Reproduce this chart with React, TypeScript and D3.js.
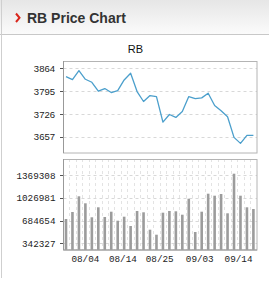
import React from "react";
import * as d3 from "d3";

const prices = [3839, 3830, 3857, 3831, 3822, 3795, 3803, 3791, 3797, 3829, 3849, 3794, 3764, 3782, 3779, 3702, 3725, 3716, 3734, 3779, 3773, 3775, 3789, 3752, 3736, 3718, 3656, 3638, 3662, 3662];
const volumes = [708795, 814362, 1051134, 945567, 734433, 885243, 738957, 818887, 683158, 743482, 603228, 829443, 809838, 547429, 472024, 803806, 829443, 824919, 773644, 1014940, 512742, 818887, 1090345, 1060183, 1085820, 794757, 1391965, 1060183, 885243, 859605];
const priceTicks = [3657, 3726, 3795, 3864];
const volumeTicks = [342327, 684654, 1026981, 1369308];
const dateLabels = ["08/04", "08/14", "08/25", "09/03", "09/14"];
const dateLabelPos = [3, 8.8, 14.5, 20.7, 26.7];

const W = 269;
const H = 281;
const L = 63.5;
const R = 257;
const P_TOP = 61;
const P_BOT = 153;
const V_TOP = 159;
const V_BOT = 250;

export default function App() {
  const x = d3.scaleLinear().domain([0, prices.length - 1]).range([66, 253.4]);
  const yP = d3.scaleLinear().domain([3609, 3886]).range([P_BOT, P_TOP]);
  const yV = d3.scaleLinear().domain([241284, 1613655]).range([V_BOT, V_TOP]);
  const line = d3
    .line<number>()
    .x((_, i) => x(i))
    .y((d) => yP(d));
  const axisFont = "'Liberation Sans', Arial, sans-serif";
  const monoFont = "'Liberation Mono', 'DejaVu Sans Mono', monospace";
  const grid = "#d8d8d8";
  return (
    <svg
      width={W}
      height={H}
      style={{ position: "absolute", left: 0, top: 0, background: "#fff" }}
    >
      <defs>
        <linearGradient id="hdr" x1="0" y1="0" x2="0" y2="1">
          <stop offset="0" stopColor="#e6e6e6" />
          <stop offset="1" stopColor="#fbfbfb" />
        </linearGradient>
      </defs>
      <rect x={0} y={0} width={W} height={H} fill="#fff" />
      <rect x={0} y={0} width={W} height={34.5} fill="url(#hdr)" />
      <line x1={0} x2={W} y1={34.5} y2={34.5} stroke="#c8c8c8" />
      <line x1={1.5} x2={1.5} y1={0} y2={278} stroke="#cfcfcf" />
      <polyline
        points="16,13.5 19.5,17.8 16,22"
        fill="none"
        stroke="#d9261c"
        strokeWidth={2}
      />
      <text
        x={27}
        y={22.7}
        fontFamily={axisFont}
        fontWeight="bold"
        fontSize={14}
        fill="#333"
      >
        RB Price Chart
      </text>
      <text
        x={135.5}
        y={52.7}
        textAnchor="middle"
        fontFamily={axisFont}
        fontSize={11}
        fill="#111"
      >
        RB
      </text>

      {/* Price panel */}
      {priceTicks.map((t) => (
        <g key={"pt" + t}>
          <line
            x1={L}
            x2={R}
            y1={Math.round(yP(t)) + 0.5}
            y2={Math.round(yP(t)) + 0.5}
            stroke={grid}
            strokeDasharray="3,3"
          />
          <line
            x1={L - 3.5}
            x2={L}
            y1={Math.round(yP(t)) + 0.5}
            y2={Math.round(yP(t)) + 0.5}
            stroke="#555"
          />
          <text
            x={55}
            y={yP(t) + 3.4}
            textAnchor="end"
            fontFamily={axisFont}
            fontSize={9.5}
            fill="#222"
          >
            {t}
          </text>
        </g>
      ))}
      <rect
        x={L}
        y={P_TOP + 0.5}
        width={R - L}
        height={P_BOT - P_TOP - 0.5}
        fill="none"
        stroke="#b4b4b4"
      />
      <line x1={L} x2={L} y1={P_TOP} y2={P_BOT} stroke="#999" />
      <path
        d={line(prices) || ""}
        fill="none"
        stroke="#4b9fcc"
        strokeWidth={1.3}
        strokeLinejoin="round"
      />

      {/* Volume panel */}
      {volumes.slice(0, -1).map((_, i) => (
        <line
          key={"vg" + i}
          x1={Math.round(x(i + 0.5)) + 0.5}
          x2={Math.round(x(i + 0.5)) + 0.5}
          y1={V_TOP}
          y2={V_BOT}
          stroke="#e3e3e3"
          strokeDasharray="3,3"
        />
      ))}
      {volumeTicks.map((t) => (
        <g key={"vt" + t}>
          <line
            x1={L}
            x2={R}
            y1={Math.round(yV(t)) + 0.5}
            y2={Math.round(yV(t)) + 0.5}
            stroke={grid}
            strokeDasharray="3,3"
          />
          <line
            x1={L - 3.5}
            x2={L}
            y1={Math.round(yV(t)) + 0.5}
            y2={Math.round(yV(t)) + 0.5}
            stroke="#555"
          />
          <text
            x={55.5}
            y={yV(t) + 3.3}
            textAnchor="end"
            fontFamily={monoFont}
            fontSize={9.3}
            fill="#222"
          >
            {t}
          </text>
        </g>
      ))}
      {volumes.map((v, i) => (
        <rect
          key={"vb" + i}
          x={x(i) - 1.3}
          y={yV(v)}
          width={2.6}
          height={V_BOT - yV(v)}
          fill="#9c9c9c"
        />
      ))}
      <rect
        x={L}
        y={V_TOP + 0.5}
        width={R - L}
        height={V_BOT - V_TOP - 0.5}
        fill="none"
        stroke="#b4b4b4"
      />
      <line x1={L} x2={L} y1={V_TOP} y2={V_BOT} stroke="#999" />
      <line x1={L} x2={R} y1={V_BOT} y2={V_BOT} stroke="#999" />
      {dateLabels.map((d, i) => (
        <text
          key={"dl" + d}
          x={x(dateLabelPos[i])}
          y={262.3}
          textAnchor="middle"
          fontFamily={monoFont}
          fontSize={9.3}
          fill="#222"
        >
          {d}
        </text>
      ))}
    </svg>
  );
}
